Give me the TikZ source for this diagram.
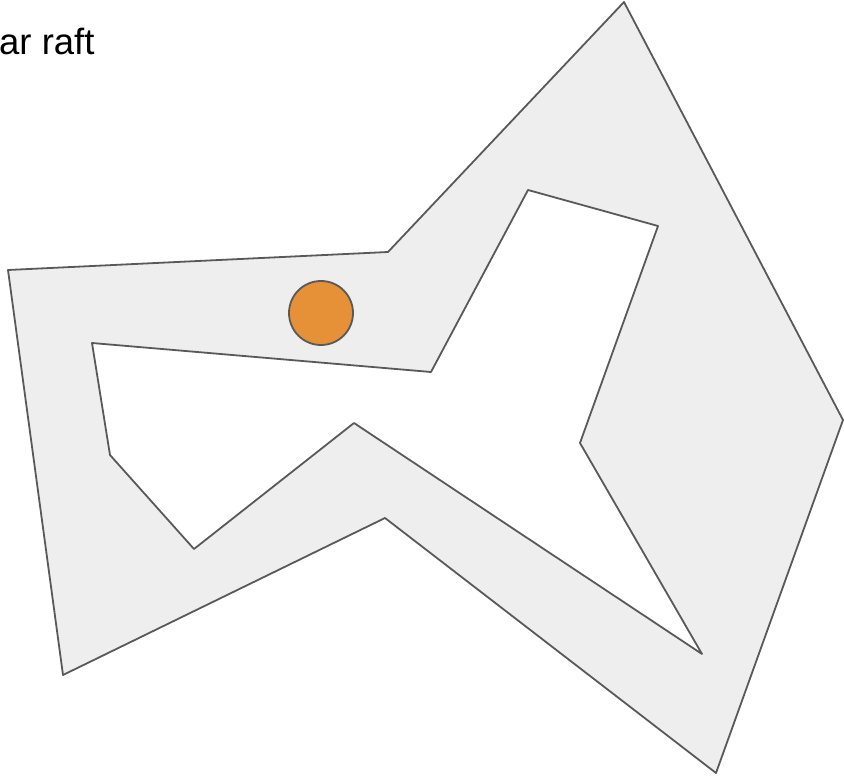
\documentclass[tikz,border=0pt]{standalone}
\usepackage{fontspec}
\setmainfont{Liberation Sans}
\usepackage{xcolor}
\usepackage{tikz}
\definecolor{raftink}{HTML}{595959}
\definecolor{raftgray}{HTML}{EEEEEE}
\definecolor{raftorange}{HTML}{E69138}

\begin{document}
\begin{tikzpicture}[x=1pt,y=-1pt,line join=round]
    \useasboundingbox (0,0) rectangle (844,778);
    \node[anchor=base west,inner sep=0pt,font=\fontsize{36.5}{40}\selectfont] (title) at (-1,55) {ar raft};
    % outer hull with the hole cut out
    \draw[raftink,line width=1.8pt,fill=raftgray,even odd rule]
      (8,270) -- (388,252) -- (624,2) -- (843,420) -- (716,773) -- (385,518) -- (63,675) -- cycle
      (92,343) -- (431,372) -- (528,190) -- (658,226) -- (580,443) -- (702,654) -- (354,423) -- (194,549) -- (110,455) -- cycle;
    \node[circle,draw=raftink,line width=1.8pt,fill=raftorange,minimum size=64pt,inner sep=0pt] (ball) at (321,313) {};
  \end{tikzpicture}
\end{document}
